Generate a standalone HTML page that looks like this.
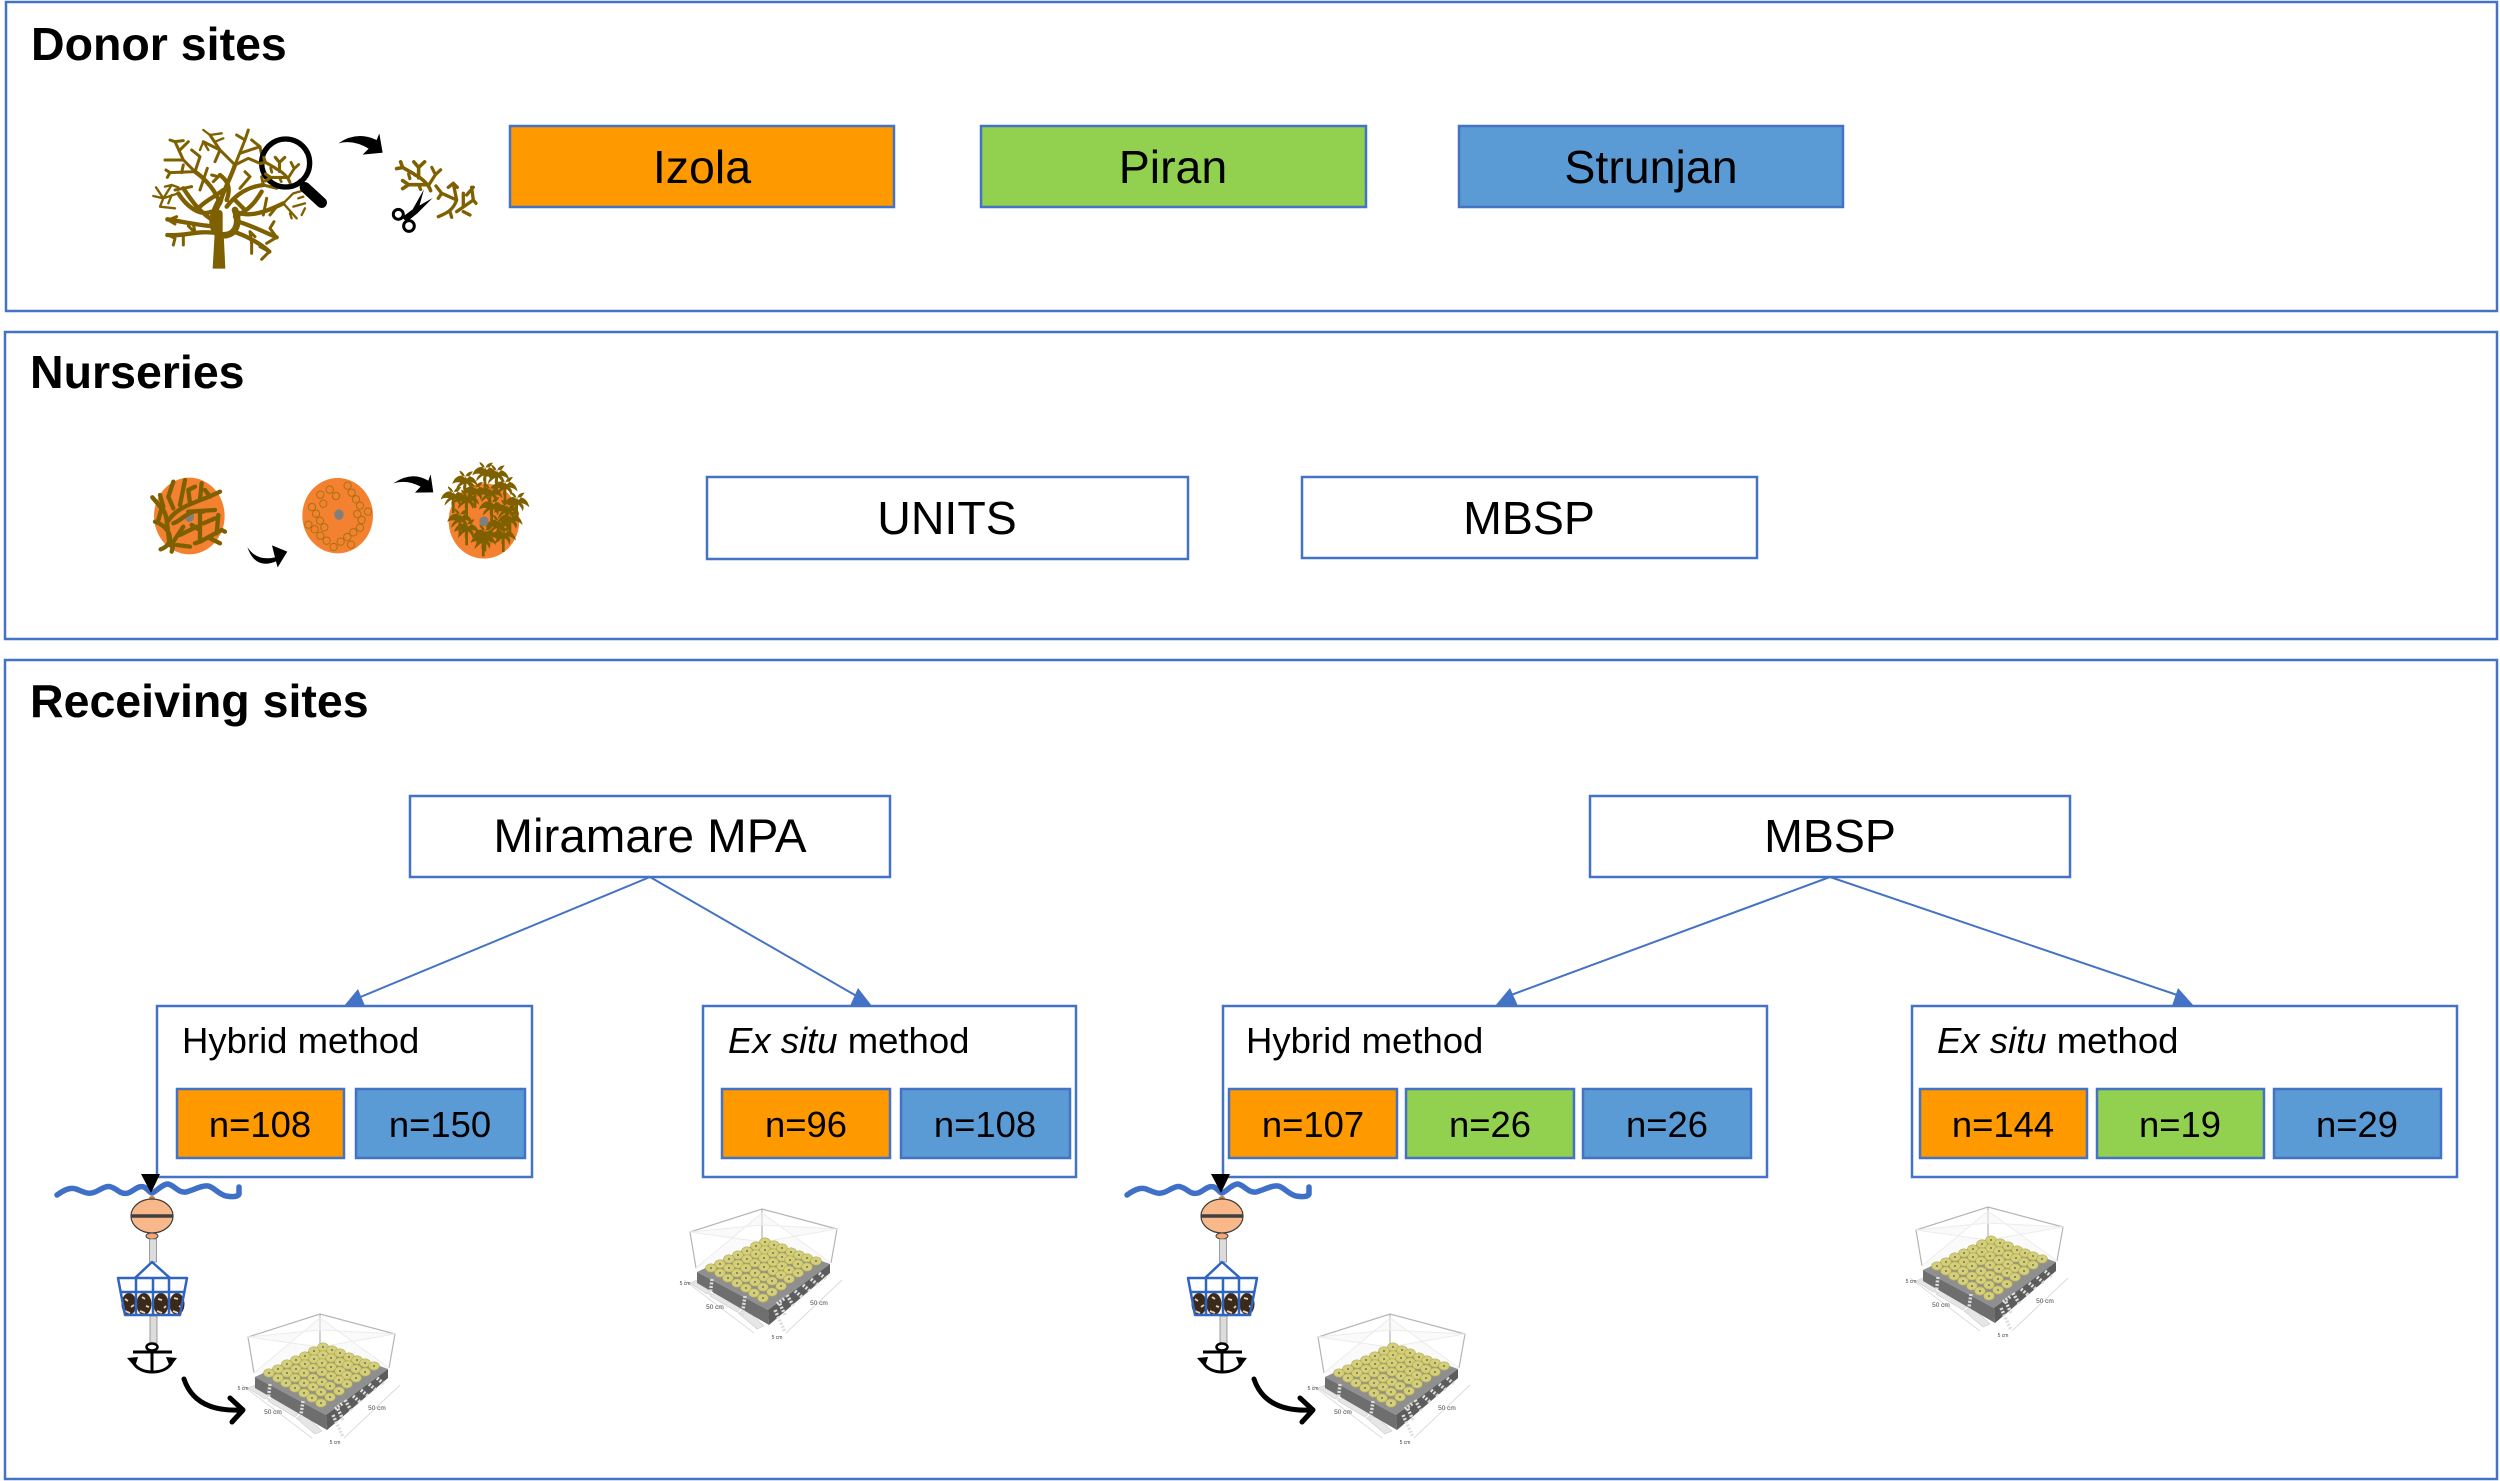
<!DOCTYPE html>
<html><head><meta charset="utf-8"><style>
html,body{margin:0;padding:0;background:#fff}
svg{display:block}
text{font-family:"Liberation Sans",Arial,sans-serif;fill:#000}
.b{fill:#fff;stroke:#4472c4;stroke-width:2.5}
.o{fill:#ff9900;stroke:#4472c4;stroke-width:2.5}
.g{fill:#92d050;stroke:#4472c4;stroke-width:2.5}
.u{fill:#5b9bd5;stroke:#4472c4;stroke-width:2.5}
.t{font-size:46.5px;font-weight:bold}
.l{font-size:46.5px;text-anchor:middle}
.m{font-size:36.5px}
.n{font-size:36.4px;text-anchor:middle}
.c{stroke:#4472c4;stroke-width:2;fill:none}
.a{fill:#4472c4}
.br{fill:none;stroke:#7f6000;stroke-linecap:round;stroke-linejoin:round}
</style></head><body>
<svg width="2500" height="1481" viewBox="0 0 2500 1481" xmlns="http://www.w3.org/2000/svg">
<defs>
<g id="twig" class="br">
<path stroke-width="9" d="M0,0 C-5,-15 -20,-30 -40,-40 M-12,-15 L-55,-15 M-55,-15 L-70,-25 M-55,-15 L-70,-5 M-30,-32 L-30,-58 M-30,-58 L-42,-72 M-30,-58 L-15,-72 M-42,-42 L-70,-58 M-70,-58 L-85,-55 M-70,-58 L-75,-72"/>
<path stroke-width="8" d="M-6,-12 L12,-40 M12,-40 L25,-52 M12,-40 L3,-58 M-30,-15 L-25,-3 M-55,-42 L-52,-30"/>
</g>
<g id="palm" fill="#7f6000">
<rect x="-4" y="0" width="8" height="54"/>
<path d="M0,-8 C-14,-16 -32,-8 -38,14 C-28,8 -20,8 -14,10 C-22,16 -26,24 -26,32 C-16,22 -10,16 -4,14 C-6,22 -6,28 -5,32 C2,24 4,18 5,12 C12,18 16,24 18,32 C24,18 20,12 14,8 C22,8 30,12 38,20 C34,-4 16,-14 0,-8 Z M2,-6 C2,-16 10,-24 24,-24 C18,-14 12,-8 6,-2 Z M-2,-6 C-10,-12 -18,-22 -16,-26 C-6,-22 0,-14 0,-4 Z"/>
</g>
<g id="buoy">
<path d="M57,1195 C64,1190 70,1187 76,1189 C84,1192 88,1195 95,1192 C100,1190 106,1185 111,1187 C118,1189 120,1195 128,1193 C134,1191 138,1185 144,1187 C148,1189 150,1193 152,1193 C156,1192 162,1184 168,1184 C174,1185 178,1193 186,1192 C194,1190 202,1185 208,1186 C214,1187 218,1194 226,1196 C232,1197 238,1197 239,1194 L239,1187" fill="none" stroke="#3f6fc6" stroke-width="5.500" stroke-linecap="round"/>
<ellipse cx="152" cy="1198" rx="3" ry="2" fill="#c87f3a"/>
<path d="M141,1174 H160 L151,1193 Z" fill="#000"/>
<ellipse cx="152" cy="1216" rx="21" ry="17" fill="#f8b88a" stroke="#3a3a3a" stroke-width="1.200"/>
<line x1="131" y1="1216" x2="173" y2="1216" stroke="#404040" stroke-width="3.500"/>
<ellipse cx="152" cy="1236" rx="6" ry="3" fill="#f4a878" stroke="#444" stroke-width="1"/>
<rect x="149.500" y="1239" width="7" height="23" fill="#dcdcdc" stroke="#888" stroke-width=".8"/>
<rect x="150" y="1316" width="7" height="27" fill="#dcdcdc" stroke="#888" stroke-width=".8"/>
<g>
<ellipse cx="129" cy="1304" rx="7.500" ry="11" fill="#3a2a1c"/><ellipse cx="144" cy="1304" rx="7.500" ry="11" fill="#3a2a1c"/><ellipse cx="161" cy="1304" rx="7.500" ry="11" fill="#3a2a1c"/><ellipse cx="177" cy="1304" rx="7.500" ry="11" fill="#3a2a1c"/>
<path d="M125,1299 l3,2 M131,1307 l3,-2 M125,1311 l5,2 M142,1297 l3,2 M146,1306 l3,1 M140,1311 l5,2 M158,1299 l4,1 M164,1308 l2,-2 M157,1311 l5,2 M174,1298 l4,1 M179,1306 l2,1 M173,1311 l5,2" stroke="#eccfab" stroke-width="1.800" fill="none"/>
</g>
<path d="M135,1278 L152,1262 L170,1278 M118,1278 H187 L180,1315 H125 Z M136,1278 L136,1315 M153,1278 V1315 M169,1278 V1315 M120,1292 H185" fill="none" stroke="#2f65c0" stroke-width="2.500" stroke-linejoin="round"/>
<ellipse cx="152" cy="1347" rx="5.500" ry="3.500" fill="#fff" stroke="#000" stroke-width="2.500"/>
<path d="M133,1352 H172 M152,1351 V1372 M133,1362 C137,1370 146,1372 152,1372 C159,1372 168,1370 172,1362" fill="none" stroke="#000" stroke-width="3"/>
<path d="M127,1358 L138,1357 L135,1367 Z M177,1358 L166,1357 L170,1367 Z" fill="#000"/>
<path d="M184,1379 C190,1397 205,1412 242,1410 M230,1398 L243,1410 L232,1422" fill="none" stroke="#000" stroke-width="5" stroke-linecap="round" stroke-linejoin="round"/>
</g>
<g id="d"><ellipse rx="5.400" ry="4.200" fill="#d4cf78" stroke="#b0ac55" stroke-width=".6"/><circle r=".9" fill="#555"/></g>
<g id="plot">
<path d="M254,1373 L248,1337 L320,1314 L395,1334 L389,1368 M320,1314 V1347" fill="none" stroke="#b5b5b5" stroke-width="1.200"/>
<path d="M248,1337 L320,1347 L395,1334 L320,1330 Z M254,1373 L320,1318 L389,1368" fill="#f6f6f6" fill-opacity=".5" stroke="#ececec" stroke-width="1"/>
<path d="M242,1385 L312,1438 M400,1385 L344,1438" fill="none" stroke="#dcdcdc" stroke-width="1"/>
<path d="M248,1388 L255,1385 L270,1395 L265,1399 Z M268,1401 L276,1396 L300,1412 L295,1417 Z M296,1418 L304,1414 L322,1431 L315,1434 Z" fill="#e6e6e6" stroke="#ccc" stroke-width=".6"/>
<path d="M255,1377 L322,1345 L388,1369 L326,1415 Z" fill="#8f8f8f"/>
<path d="M255,1377 L326,1415 L327,1430 L255,1388 Z" fill="#6e6e6e"/>
<path d="M326,1415 L388,1369 L388,1378 L327,1430 Z" fill="#5c5c5c"/>
<path d="M270,1384 l-2,17 M303,1401 l-3,20 M335,1409 l8,-6 M343,1420 l-6,-13 M345,1400 l7,12 M353,1396 l7,6 M361,1390 l7,6 M369,1384 l7,6 M377,1378 l7,6 M333,1415 l10,22" stroke="#dedede" stroke-width="3.500" stroke-dasharray="2 1.500" fill="none"/>
<use href="#d" x="323" y="1347"/><use href="#d" x="332" y="1350"/><use href="#d" x="340" y="1353"/><use href="#d" x="349" y="1357"/><use href="#d" x="357" y="1360"/><use href="#d" x="365" y="1363"/><use href="#d" x="374" y="1366"/>
<use href="#d" x="314" y="1351"/><use href="#d" x="323" y="1355"/><use href="#d" x="331" y="1358"/><use href="#d" x="340" y="1362"/><use href="#d" x="348" y="1365"/><use href="#d" x="356" y="1369"/><use href="#d" x="365" y="1372"/>
<use href="#d" x="305" y="1356"/><use href="#d" x="314" y="1359"/><use href="#d" x="322" y="1363"/><use href="#d" x="331" y="1367"/><use href="#d" x="340" y="1371"/><use href="#d" x="347" y="1375"/><use href="#d" x="356" y="1378"/>
<use href="#d" x="296" y="1360"/><use href="#d" x="305" y="1364"/><use href="#d" x="313" y="1368"/><use href="#d" x="322" y="1372"/><use href="#d" x="331" y="1376"/><use href="#d" x="339" y="1380"/><use href="#d" x="347" y="1384"/>
<use href="#d" x="287" y="1364"/><use href="#d" x="296" y="1369"/><use href="#d" x="304" y="1373"/><use href="#d" x="313" y="1378"/><use href="#d" x="322" y="1382"/><use href="#d" x="330" y="1386"/><use href="#d" x="339" y="1391"/>
<use href="#d" x="278" y="1369"/><use href="#d" x="287" y="1373"/><use href="#d" x="295" y="1378"/><use href="#d" x="304" y="1383"/><use href="#d" x="313" y="1387"/><use href="#d" x="321" y="1392"/><use href="#d" x="330" y="1397"/>
<use href="#d" x="269" y="1373"/><use href="#d" x="278" y="1378"/><use href="#d" x="286" y="1383"/><use href="#d" x="295" y="1388"/><use href="#d" x="304" y="1393"/><use href="#d" x="312" y="1398"/><use href="#d" x="321" y="1403"/>
<text x="273" y="1414" text-anchor="middle" style="font-size:6.500px;fill:#444">50 cm</text>
<text x="377" y="1410" text-anchor="middle" style="font-size:6.500px;fill:#444">50 cm</text>
<text x="243" y="1390" text-anchor="middle" style="font-size:5px;fill:#444">5 cm</text>
<text x="335" y="1444" text-anchor="middle" style="font-size:5px;fill:#444">5 cm</text>
</g>
</defs>

<!-- panels -->
<rect class="b" x="6" y="2" width="2491" height="309"/>
<rect class="b" x="5" y="332" width="2492" height="307"/>
<rect class="b" x="5" y="660" width="2492" height="819"/>
<text class="t" x="31" y="60">Donor sites</text>
<text class="t" x="30" y="388">Nurseries</text>
<text class="t" x="30" y="717">Receiving sites</text>

<!-- donor boxes -->
<rect class="o" x="510" y="126" width="384" height="81"/><text class="l" x="702" y="183">Izola</text>
<rect class="g" x="981" y="126" width="385" height="81"/><text class="l" x="1173" y="183">Piran</text>
<rect class="u" x="1459" y="126" width="384" height="81"/><text class="l" x="1651" y="183">Strunjan</text>

<!-- tree -->
<g transform="translate(120,100) scale(.3333)">
<path d="M278,506 L316,506 L311,400 L284,400 Z" fill="#7f6000"/>
<g class="br">
<path stroke-width="20" d="M296,405 C268,380 275,345 300,300 M300,405 C345,412 362,375 345,330 M298,400 L298,340"/>
<path stroke-width="13" d="M300,310 C310,270 330,240 345,195 M300,310 C285,270 260,240 225,215 M345,335 C380,350 420,345 490,310 M272,378 C230,375 190,365 142,358 M278,398 C225,392 190,410 142,405 M340,395 C375,405 420,430 448,455 M355,365 C390,375 430,395 470,412 M270,355 C240,335 220,310 190,265 M320,320 C350,280 385,260 430,255 M345,350 C390,330 410,300 425,275 M275,335 C240,350 200,320 175,280 M240,320 C260,300 285,290 310,270 M320,300 C335,260 320,240 300,225 M345,300 L375,330"/>
<path stroke-width="9" d="M225,215 L190,180 L135,180 M190,180 L165,125 M165,125 L150,120 M165,125 L190,122 M205,125 L180,150 M225,215 L240,170 L215,150 M225,215 L150,218 L138,210 M150,218 L142,232 M185,218 L190,195 M345,195 L300,150 L270,105 M300,150 L250,125 M345,195 L375,120 L350,105 M375,120 L385,90 M360,160 L420,140 L395,120 M420,140 L425,165 M345,195 L385,175 L420,190 M300,150 L285,185 M240,270 L262,205 M280,245 L295,230 L275,225 M360,265 L390,230 L375,215 M430,255 L470,265 M430,255 L425,230 M190,265 L165,270 M190,265 L215,260 M470,320 L450,345 M430,345 L440,295 M145,360 L170,350 M145,360 L165,372 M225,398 L220,372 M225,398 L205,378 M145,405 L165,415 L160,435 M190,410 L190,435 M470,412 L450,385 L462,365 M470,412 L440,430 M448,455 L420,440 M448,455 L425,478 M395,430 L390,395 L405,410 M395,430 L395,460"/>
<path stroke-width="7" d="M270,105 L250,90 M270,105 L305,100 M285,125 L310,115 M250,125 L240,150 M250,125 L265,150 M175,280 L130,295 L100,288 M130,295 L108,262 M130,295 L120,320 L165,325 M130,295 L155,255 M155,255 L135,260 M155,255 L175,262 M145,310 L155,285 M490,310 L530,355 M490,310 L520,280 L555,270 M520,320 L555,310 M545,345 L555,325 M510,340 L515,355 M535,295 L550,290"/>
</g>
<circle cx="497" cy="189" r="72" fill="none" stroke="#000" stroke-width="16"/>
<path d="M555,262 L605,308" stroke="#000" stroke-width="32" stroke-linecap="round"/>
<path d="M555,262 L535,240" stroke="#000" stroke-width="14"/>
<use href="#twig" transform="translate(510,248) scale(1.050)"/>
<path d="M655,130 Q710,92 770,120 L778,100 L788,158 L728,164 L746,146 Q700,118 655,130 Z" fill="#000"/>
<use href="#twig" transform="translate(932,272) scale(1.200)"/>
<g class="br"><path stroke-width="10" d="M955,350 C980,340 1000,330 1010,300 M1010,335 L1060,300 M1060,300 L1055,262 M1060,300 L1068,310 M1010,300 L1000,250 M1000,250 L985,262 M1000,250 L1012,262 M1010,300 L965,280 L948,258 M965,280 L955,295 M990,335 L995,352 M1030,335 L1050,345 M1030,320 L1030,280 M1040,285 L1060,262"/></g>
<circle cx="835" cy="343" r="15" fill="none" stroke="#000" stroke-width="9"/>
<circle cx="867" cy="378" r="16" fill="none" stroke="#000" stroke-width="9"/>
<path d="M846,352 L878,328 L912,268 L892,340 L860,366 Z M878,328 L938,294 L892,340 Z" fill="#000"/>
</g>

<!-- nurseries -->
<rect class="b" x="707" y="477" width="481" height="82"/><text class="l" x="947" y="534">UNITS</text>
<rect class="b" x="1302" y="477" width="455" height="81"/><text class="l" x="1529" y="534">MBSP</text>
<g transform="translate(120,440) scale(.3333)">
<ellipse cx="208" cy="228" rx="106" ry="115" fill="#f4812f"/>
<ellipse cx="208" cy="230" rx="14" ry="16" fill="#7f7f7f"/>
<g class="br" stroke-width="13">
<path d="M122,328 C170,310 150,260 105,245 M150,315 C140,270 145,220 125,205 L97,172 M125,205 L115,240 M140,250 C170,195 230,190 300,155 M160,205 L145,170 L160,125 M180,195 L195,120 M210,190 L205,150 L225,140 M240,180 L245,130 M270,170 L255,150 M250,215 C205,205 190,240 160,250 M205,215 L285,210 M240,215 L240,305 L225,310 M240,305 L305,270 L315,275 M290,280 L295,225 M270,295 L300,310 M250,250 L285,235 M170,315 L210,320 M190,260 L160,305 M180,285 L230,260 M155,335 L160,315 M120,165 L130,200 M215,255 L240,270"/>
</g>
<ellipse cx="653" cy="227" rx="106" ry="113" fill="#f4812f"/>
<ellipse cx="657" cy="224" rx="14" ry="16" fill="#7f7f7f"/>
<g fill="none" stroke="#a6730f" stroke-width="3">
<circle cx="683" cy="137" r="11"/><circle cx="695" cy="158" r="11"/><circle cx="708" cy="178" r="11"/><circle cx="720" cy="197" r="11"/><circle cx="744" cy="215" r="11"/><circle cx="712" cy="222" r="11"/><circle cx="725" cy="240" r="11"/><circle cx="720" cy="263" r="11"/><circle cx="700" cy="277" r="11"/><circle cx="682" cy="291" r="11"/><circle cx="662" cy="305" r="11"/><circle cx="641" cy="321" r="11"/><circle cx="693" cy="314" r="11"/><circle cx="620" cy="302" r="11"/><circle cx="601" cy="287" r="11"/><circle cx="613" cy="262" r="11"/><circle cx="600" cy="242" r="11"/><circle cx="588" cy="221" r="11"/><circle cx="576" cy="201" r="11"/><circle cx="610" cy="191" r="11"/><circle cx="601" cy="164" r="11"/><circle cx="629" cy="149" r="11"/><circle cx="648" cy="168" r="11"/><circle cx="565" cy="254" r="11"/><circle cx="584" cy="268" r="11"/>
</g>
<ellipse cx="1092" cy="243" rx="106" ry="113" fill="#f4812f"/>
<use href="#palm" x="1035" y="118"/><use href="#palm" x="1095" y="92"/><use href="#palm" x="1130" y="100"/><use href="#palm" x="1155" y="135"/><use href="#palm" x="1065" y="150"/><use href="#palm" x="1110" y="155"/><use href="#palm" x="1000" y="165"/><use href="#palm" x="1190" y="182"/><use href="#palm" x="1115" y="195"/><use href="#palm" x="1040" y="175"/><use href="#palm" x="1160" y="205"/><use href="#palm" x="1170" y="235"/><use href="#palm" x="1020" y="232"/><use href="#palm" x="1135" y="250"/><use href="#palm" x="1040" y="262"/><use href="#palm" x="1095" y="280"/><use href="#palm" x="1090" y="295"/><use href="#palm" x="1150" y="282"/>
<ellipse cx="1092" cy="244" rx="14" ry="15" fill="#7f7f7f"/>
<path d="M820,130 Q875,92 925,122 L932,103 L940,157 L885,158 L902,140 Q860,118 820,130 Z" fill="#000"/>
<path d="M382,321 Q410,365 465,352 L456,316 L502,335 L473,382 L468,364 Q405,390 382,321 Z" fill="#000"/>
</g>

<!-- receiving boxes -->
<rect class="b" x="410" y="796" width="480" height="81"/><text class="l" x="650" y="852" style="font-size:47.5px">Miramare MPA</text>
<rect class="b" x="1590" y="796" width="480" height="81"/><text class="l" x="1830" y="852">MBSP</text>

<path class="c" d="M650,877 L358,998 M650,877 L860,998 M1830,877 L1503,998 M1830,877 L2186,998"/>
<path class="a" d="M344,1006 L358,989 L365,1006 Z M850,1006 L858,988 L872,1006 Z M1495,1006 L1510,988 L1518,1006 Z M2172,1006 L2178,988 L2194,1006 Z"/>

<rect class="b" x="157" y="1006" width="375" height="171"/>
<text class="m" x="182" y="1053">Hybrid method</text>
<rect class="o" x="177" y="1089" width="167" height="69"/><text class="n" x="260" y="1137">n=108</text>
<rect class="u" x="356" y="1089" width="169" height="69"/><text class="n" x="440" y="1137">n=150</text>

<rect class="b" x="703" y="1006" width="373" height="171"/>
<text class="m" x="728" y="1053"><tspan font-style="italic">Ex situ</tspan> method</text>
<rect class="o" x="722" y="1089" width="168" height="69"/><text class="n" x="806" y="1137">n=96</text>
<rect class="u" x="901" y="1089" width="169" height="69"/><text class="n" x="985" y="1137">n=108</text>

<rect class="b" x="1223" y="1006" width="544" height="171"/>
<text class="m" x="1246" y="1053">Hybrid method</text>
<rect class="o" x="1229" y="1089" width="168" height="69"/><text class="n" x="1313" y="1137">n=107</text>
<rect class="g" x="1406" y="1089" width="168" height="69"/><text class="n" x="1490" y="1137">n=26</text>
<rect class="u" x="1583" y="1089" width="168" height="69"/><text class="n" x="1667" y="1137">n=26</text>

<rect class="b" x="1912" y="1006" width="545" height="171"/>
<text class="m" x="1937" y="1053"><tspan font-style="italic">Ex situ</tspan> method</text>
<rect class="o" x="1920" y="1089" width="167" height="69"/><text class="n" x="2003" y="1137">n=144</text>
<rect class="g" x="2097" y="1089" width="167" height="69"/><text class="n" x="2180" y="1137">n=19</text>
<rect class="u" x="2274" y="1089" width="167" height="69"/><text class="n" x="2357" y="1137">n=29</text>

<use href="#buoy"/>
<use href="#buoy" x="1070"/>
<use href="#plot"/>
<use href="#plot" x="1070"/>
<use href="#plot" x="442" y="-105"/>
<use href="#plot" x="1668" y="-107"/>
</svg>
</body></html>
